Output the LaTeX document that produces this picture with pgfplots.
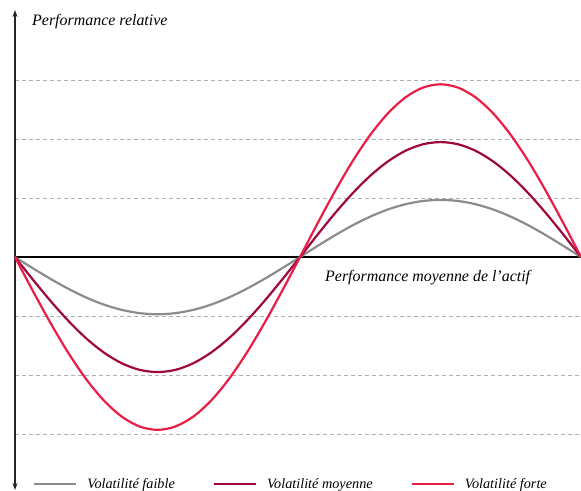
\documentclass[border=0pt]{standalone}
\usepackage{fontspec}
\setmainfont{Liberation Serif}
\usepackage{pgfplots}
\pgfplotsset{compat=1.18}
\usetikzlibrary{arrows.meta}
\definecolor{cgray}{RGB}{140,140,140}
\definecolor{cdark}{RGB}{158,8,60}
\definecolor{cred}{RGB}{234,30,68}
\definecolor{cgrid}{RGB}{175,175,175}
\pgfplotstableread{
x y1 y2 y3
15 0 0 0
32.81 -0.189 -0.380 -0.572
50.63 -0.371 -0.746 -1.121
68.44 -0.539 -1.083 -1.628
86.25 -0.686 -1.379 -2.072
104.06 -0.807 -1.621 -2.436
121.88 -0.896 -1.802 -2.707
139.69 -0.951 -1.913 -2.874
157.5 -0.970 -1.950 -2.930
175.31 -0.951 -1.913 -2.874
193.13 -0.896 -1.802 -2.707
210.94 -0.807 -1.621 -2.436
228.75 -0.686 -1.379 -2.072
246.56 -0.539 -1.083 -1.628
264.38 -0.371 -0.746 -1.121
282.19 -0.189 -0.380 -0.572
300 0 0 0
317.56 0.189 0.380 0.572
335.13 0.371 0.746 1.121
352.69 0.539 1.083 1.628
370.25 0.686 1.379 2.072
387.81 0.807 1.621 2.436
405.38 0.896 1.802 2.707
422.94 0.951 1.913 2.874
440.5 0.970 1.950 2.930
458.06 0.951 1.913 2.874
475.63 0.896 1.802 2.707
493.19 0.807 1.621 2.436
510.75 0.686 1.379 2.072
528.31 0.539 1.083 1.628
545.88 0.371 0.746 1.121
563.44 0.189 0.380 0.572
581 0 0 0
}\data
\begin{document}
\begin{tikzpicture}
\path[use as bounding box] (-15bp,-1bp) rectangle (566bp,490bp);
\begin{axis}[
  scale only axis,
  width=566bp, height=480bp,
  xmin=15, xmax=581,
  ymin=-3.95, ymax=4.19,
  hide axis,
  clip=false,
  legend columns=3,
  legend style={draw=none, fill=none, at={(axis cs:33,-3.85)}, anchor=west,
    font=\itshape\fontsize{14.3}{16}\selectfont,
    nodes={inner sep=0pt},
    /tikz/every odd column/.append style={column sep=10bp},
    /tikz/every even column/.append style={column sep=38bp},
    inner sep=0pt},
  legend image code/.code={\draw[#1] (0bp,0bp) -- (42bp,0bp);},
]
\foreach \g in {-3,-2,-1,1,2,3}{
  \edef\temp{\noexpand\draw[cgrid, line width=0.8bp, dash pattern=on 4bp off 3bp] (axis cs:15,\g) -- (axis cs:581,\g);}
  \temp
}
\draw[black, line width=1.2bp] (axis cs:15,0) -- (axis cs:581,0);
\draw[black!85, line width=1.2bp, {Stealth[length=7bp,width=5bp]}-{Stealth[length=7bp,width=5bp]}] (axis cs:15,-3.95) -- (axis cs:15,4.19);
\addplot[cgray, line width=2.2bp, smooth] table[x=x, y=y1] {\data};
\addlegendentry{Volatilité faible}
\addplot[cdark, line width=2.2bp, smooth] table[x=x, y=y2] {\data};
\addlegendentry{Volatilité moyenne}
\addplot[cred, line width=2.2bp, smooth] table[x=x, y=y3] {\data};
\addlegendentry{Volatilité forte}
\node[anchor=base west, font=\itshape\fontsize{16}{18}\selectfont, inner sep=0pt] at (axis cs:32,3.93) {Performance relative};
\node[anchor=base west, font=\itshape\fontsize{16}{18}\selectfont, inner sep=0pt] at (axis cs:325,-0.42) {Performance moyenne de l’actif};
\end{axis}
\end{tikzpicture}
\end{document}
